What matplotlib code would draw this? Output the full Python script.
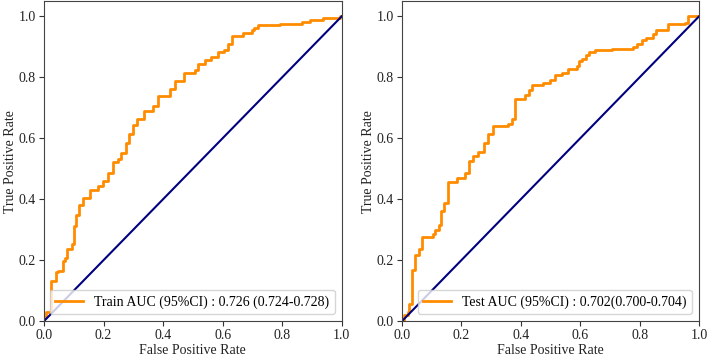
#ROC curves for train and test sets, side by side.

#importing all libraries which will be used.
import matplotlib
matplotlib.use("Agg")
import matplotlib.pyplot as plt
from matplotlib.ticker import FormatStrFormatter

plt.rcParams['font.family'] = ['Liberation Serif', 'DejaVu Serif']

#Train ROC corner points
train_fpr = [0.0, 0.0, 0.006, 0.006, 0.023, 0.023, 0.04, 0.04, 0.048, 0.048, 0.063, 0.063,
             0.07, 0.07, 0.076, 0.076, 0.093, 0.093, 0.102, 0.102, 0.106, 0.106, 0.117, 0.117,
             0.132, 0.132, 0.154, 0.154, 0.182, 0.182, 0.197, 0.197, 0.214, 0.214, 0.233, 0.233,
             0.25, 0.25, 0.258, 0.258, 0.275, 0.275, 0.286, 0.286, 0.298, 0.298, 0.313, 0.313,
             0.336, 0.336, 0.367, 0.367, 0.384, 0.384, 0.423, 0.423, 0.44, 0.44, 0.471, 0.471,
             0.507, 0.507, 0.518, 0.518, 0.54, 0.54, 0.56, 0.56, 0.585, 0.585, 0.605, 0.605,
             0.618, 0.618, 0.632, 0.632, 0.669, 0.669, 0.697, 0.697, 0.705, 0.705, 0.719, 0.719,
             0.792, 0.792, 0.865, 0.865, 0.893, 0.893, 0.937, 0.937, 0.993, 0.993, 1.0]
train_tpr = [0.0, 0.015, 0.015, 0.03, 0.03, 0.131, 0.131, 0.162, 0.162, 0.164, 0.164, 0.197,
             0.197, 0.208, 0.208, 0.236, 0.236, 0.252, 0.252, 0.311, 0.311, 0.348, 0.348, 0.38,
             0.38, 0.405, 0.405, 0.43, 0.43, 0.443, 0.443, 0.46, 0.46, 0.486, 0.486, 0.522,
             0.522, 0.533, 0.533, 0.55, 0.55, 0.583, 0.583, 0.615, 0.615, 0.643, 0.643, 0.664,
             0.664, 0.689, 0.689, 0.705, 0.705, 0.739, 0.739, 0.763, 0.763, 0.787, 0.787, 0.814,
             0.814, 0.823, 0.823, 0.845, 0.845, 0.856, 0.856, 0.866, 0.866, 0.883, 0.883, 0.89,
             0.89, 0.91, 0.91, 0.934, 0.934, 0.946, 0.946, 0.954, 0.954, 0.962, 0.962, 0.97,
             0.97, 0.976, 0.976, 0.98, 0.98, 0.987, 0.987, 0.995, 0.995, 1.0, 1.0]

#Test ROC corner points
test_fpr = [0.0, 0.006, 0.006, 0.019, 0.019, 0.022, 0.022, 0.034, 0.034, 0.045, 0.045, 0.056,
            0.056, 0.067, 0.067, 0.103, 0.103, 0.112, 0.112, 0.123, 0.123, 0.132, 0.132, 0.143,
            0.143, 0.156, 0.156, 0.184, 0.184, 0.212, 0.212, 0.226, 0.226, 0.24, 0.24, 0.257,
            0.257, 0.277, 0.277, 0.29, 0.29, 0.305, 0.305, 0.357, 0.357, 0.371, 0.371, 0.381,
            0.381, 0.415, 0.415, 0.426, 0.426, 0.437, 0.437, 0.476, 0.476, 0.497, 0.497, 0.516,
            0.516, 0.538, 0.538, 0.56, 0.56, 0.589, 0.589, 0.596, 0.596, 0.605, 0.605, 0.62,
            0.62, 0.631, 0.631, 0.65, 0.65, 0.706, 0.706, 0.776, 0.776, 0.79, 0.79, 0.807,
            0.807, 0.821, 0.821, 0.846, 0.846, 0.855, 0.855, 0.897, 0.897, 0.953, 0.953, 0.964,
            0.964, 1.0]
test_tpr = [0.0, 0.0, 0.02, 0.02, 0.03, 0.03, 0.056, 0.056, 0.169, 0.169, 0.216, 0.216,
            0.236, 0.236, 0.276, 0.276, 0.285, 0.285, 0.298, 0.298, 0.317, 0.317, 0.362, 0.362,
            0.389, 0.389, 0.457, 0.457, 0.468, 0.468, 0.486, 0.486, 0.525, 0.525, 0.541, 0.541,
            0.555, 0.555, 0.583, 0.583, 0.615, 0.615, 0.64, 0.64, 0.648, 0.648, 0.664, 0.664,
            0.728, 0.728, 0.741, 0.741, 0.757, 0.757, 0.774, 0.774, 0.781, 0.781, 0.79, 0.79,
            0.807, 0.807, 0.814, 0.814, 0.826, 0.826, 0.836, 0.836, 0.852, 0.852, 0.861, 0.861,
            0.872, 0.872, 0.883, 0.883, 0.889, 0.889, 0.894, 0.894, 0.9, 0.9, 0.908, 0.908,
            0.923, 0.923, 0.93, 0.93, 0.943, 0.943, 0.954, 0.954, 0.974, 0.974, 0.979, 0.979,
            1.0, 1.0]

ticks = [0.0, 0.2, 0.4, 0.6, 0.8, 1.0]
train_label = "Train AUC (95%CI) : 0.726 (0.724-0.728)"
test_label = "Test AUC (95%CI) : 0.702(0.700-0.704)"

fig = plt.figure(figsize=(7.09, 3.58), dpi=100)
ax1 = fig.add_axes([0.062, 0.103, 0.420, 0.894])
ax2 = fig.add_axes([0.567, 0.103, 0.419, 0.894])

for ax, fpr, tpr, label in [(ax1, train_fpr, train_tpr, train_label),
                            (ax2, test_fpr, test_tpr, test_label)]:
    ax.plot(fpr, tpr, color='darkorange', lw=2, label=label)
    ax.plot([0, 1], [0, 1], color='navy', lw=1.5)
    ax.set_xlim(0.0, 1.0)
    ax.set_ylim(0.0, 1.05)
    ax.set_xticks(ticks)
    ax.set_yticks(ticks)
    ax.xaxis.set_major_formatter(FormatStrFormatter('%.1f'))
    ax.yaxis.set_major_formatter(FormatStrFormatter('%.1f'))
    ax.tick_params(labelsize=10, colors='#333333', labelcolor='#222222', pad=2.5)
    for s in ax.spines.values():
        s.set_color('#444444')
    ax.set_xlabel("False Positive Rate", fontsize=10, color='#222222', labelpad=1)
    ax.set_ylabel("True Positive Rate", fontsize=10, color='#222222', labelpad=1)
    ax.legend(loc="lower right", fontsize=10)

fig.savefig("out.png", dpi=100)
